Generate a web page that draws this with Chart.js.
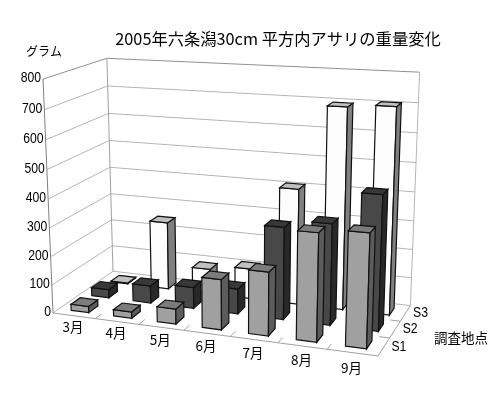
<!DOCTYPE html>
<html>
<head>
<meta charset="utf-8">
<style>
html, body { margin: 0; padding: 0; background: #fff; }
canvas { display: block; }
</style>
<script src="https://cdn.jsdelivr.net/npm/chart.js@4"></script>
</head>
<body>
<canvas id="myChart" width="500" height="396"></canvas>
<script>
var months = ['3月', '4月', '5月', '6月', '7月', '8月', '9月'];
var sites = ['S1', 'S2', 'S3'];
var s1Values = [22, 22, 52, 172, 215, 360, 375];
var s2Values = [30, 62, 75, 88, 318, 345, 455];
var s3Values = [3, 245, 90, 108, 407, 695, 705];

var titleText = '2005年六条潟30cm 平方内アサリの重量変化';
var yAxisTitle = 'グラム';
var depthAxisTitle = '調査地点';

var jpFont = '"Noto Sans CJK JP", "Noto Sans", sans-serif';
var numFont = '"Liberation Sans", sans-serif';

// corner of the floor and the three weights/vanishing points of the box
var origin = { x: 53, y: 313 };
var vpMonth = { x: -2872, y: -74, k: -0.10 };
var vpDepth = { x: 692, y: -132, k: 0.1036 };
var vpHeight = { x: 239, y: 4675, k: -0.0509 };

// front, side, top
var faceColors = [
    ['#a0a0a0', '#5c5c5c', '#7c7c7c'],
    ['#484848', '#282828', '#383838'],
    ['#fdfdfd', '#808080', '#c0c0c0']
];

function project(u, v, w) {
    var a = vpMonth.k * u, b = vpDepth.k * v, c = vpHeight.k * w;
    var d = 1 + a + b + c;
    return {
        x: (origin.x + a * vpMonth.x + b * vpDepth.x + c * vpHeight.x) / d,
        y: (origin.y + a * vpMonth.y + b * vpDepth.y + c * vpHeight.y) / d
    };
}

function poly(ctx, pts, fill, stroke) {
    ctx.beginPath();
    ctx.moveTo(pts[0].x, pts[0].y);
    for (var i = 1; i < pts.length; i++) ctx.lineTo(pts[i].x, pts[i].y);
    ctx.closePath();
    if (fill) { ctx.fillStyle = fill; ctx.fill(); }
    if (stroke) { ctx.strokeStyle = stroke; ctx.stroke(); }
}

function line(ctx, p, q, color) {
    ctx.beginPath();
    ctx.moveTo(p.x, p.y);
    ctx.lineTo(q.x, q.y);
    ctx.strokeStyle = color;
    ctx.stroke();
}

// the original's digits are narrower than Liberation Sans
function narrowText(ctx, text, x, y) {
    ctx.save();
    ctx.translate(x, y);
    ctx.scale(0.87, 1);
    ctx.fillText(text, 0, 0);
    ctx.restore();
}

var box3d = {
    id: 'box3d',
    afterDatasetsDraw: function (chart) {
        var ctx = chart.ctx;
        var xs = chart.scales.x, ys = chart.scales.y, ds = chart.scales.depth;
        var uOf = function (i) { return (xs.getPixelForValue(i) - xs.left) / xs.width; };
        var vOf = function (i) { return (ds.getPixelForValue(i) - ds.left) / ds.width; };
        var wOf = function (val) { return (ys.bottom - ys.getPixelForValue(val)) / ys.height; };
        var halfU = 0.21 / months.length, halfV = 0.22 / sites.length;

        ctx.save();
        ctx.lineWidth = 1;

        // walls and floor
        ys.ticks.forEach(function (t) {
            var w = wOf(t.value);
            var c = (t.value === 800) ? '#909090' : '#b4b4b4';
            line(ctx, project(0, 0, w), project(0, 1, w), c);
            line(ctx, project(0, 1, w), project(1, 1, w), c);
        });
        line(ctx, project(0, 0, 0), project(0, 0, 1), '#808080');
        line(ctx, project(0, 1, 0), project(0, 1, 1), '#a0a0a0');
        line(ctx, project(1, 1, 0), project(1, 1, 1), '#b4b4b4');
        line(ctx, project(0, 0, 0), project(1, 0, 0), '#a0a0a0');
        line(ctx, project(1, 0, 0), project(1, 1, 0), '#a0a0a0');
        for (var m = 1; m < months.length; m++) {
            line(ctx, project(m / months.length, 0, 0), project(m / months.length, 0.1, 0), '#a0a0a0');
        }
        for (var s = 1; s < sites.length; s++) {
            line(ctx, project(1, s / sites.length, 0), project(0.97, s / sites.length, 0), '#a0a0a0');
        }

        // bars, back row first
        ctx.lineWidth = 1.2;
        for (var row = sites.length - 1; row >= 0; row--) {
            var vals = chart.data.datasets[row].data;
            for (var i = 0; i < vals.length; i++) {
                var u0 = uOf(i) - halfU, u1 = uOf(i) + halfU;
                var v0 = vOf(row) - halfV, v1 = vOf(row) + halfV;
                var w = wOf(vals[i]);
                var col = faceColors[row];
                poly(ctx, [project(u0, v0, 0), project(u1, v0, 0), project(u1, v0, w), project(u0, v0, w)], col[0], '#111');
                poly(ctx, [project(u1, v0, 0), project(u1, v1, 0), project(u1, v1, w), project(u1, v0, w)], col[1], '#111');
                poly(ctx, [project(u0, v0, w), project(u1, v0, w), project(u1, v1, w), project(u0, v1, w)], col[2], '#111');
            }
        }

        // tick labels
        ctx.fillStyle = '#000';
        ctx.textBaseline = 'middle';
        ctx.font = '14px ' + numFont;
        ctx.textAlign = 'right';
        ys.ticks.forEach(function (t) {
            var p = project(0, 0, wOf(t.value));
            narrowText(ctx, String(t.value), p.x - 2, p.y - 1);
        });
        ctx.textAlign = 'center';
        ctx.font = '13.5px ' + jpFont;
        months.forEach(function (name, i) {
            var p = project(uOf(i), 0, 0);
            ctx.fillText(name, p.x - 1, p.y + 11 + 4 * i / 6);
        });
        ctx.font = '14px ' + numFont;
        sites.forEach(function (name, i) {
            var p = project(1, vOf(i), 0);
            narrowText(ctx, name, p.x + 15, p.y);
        });
        ctx.font = '13.5px ' + jpFont;
        ctx.fillText(depthAxisTitle, 461, 338);
        ctx.font = '12px ' + jpFont;
        ctx.fillText(yAxisTitle, 44, 51);
        ctx.restore();
    }
};

var ctx = document.getElementById('myChart').getContext('2d');
var chart = new Chart(ctx, {
    type: 'bar',
    data: {
        labels: months,
        datasets: [
            { label: sites[0], data: s1Values, backgroundColor: 'transparent' },
            { label: sites[1], data: s2Values, backgroundColor: 'transparent' },
            { label: sites[2], data: s3Values, backgroundColor: 'transparent' }
        ]
    },
    plugins: [box3d],
    options: {
        responsive: false,
        animation: false,
        layout: { padding: { left: 56, top: 0 } },
        plugins: {
            legend: { display: false },
            tooltip: { enabled: false },
            title: {
                display: true,
                text: titleText,
                color: '#000',
                font: { family: jpFont, size: 16.3, weight: 'normal' },
                padding: { top: 29, bottom: 0 }
            }
        },
        scales: {
            x: { type: 'category', display: false, offset: true },
            y: { display: false, min: 0, max: 800, ticks: { stepSize: 100 } },
            depth: { type: 'category', labels: sites, axis: 'x', position: 'top', display: false, offset: true }
        }
    }
});
</script>
</body>
</html>
